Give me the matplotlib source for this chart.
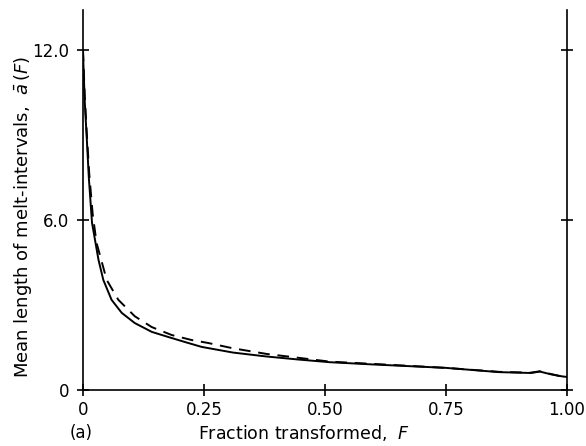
import matplotlib
matplotlib.use("Agg")
import matplotlib.pyplot as plt

# Data
F_solid = [0.0, 0.0035, 0.008, 0.012, 0.0186, 0.032, 0.042, 0.059, 0.080, 0.107, 0.142, 0.176, 0.211,
           0.245, 0.31, 0.38, 0.448, 0.51, 0.6, 0.75, 0.86, 0.925, 0.944, 0.965, 0.99, 1.0]
a_solid = [11.9, 10.2, 8.8, 7.5, 5.9, 4.59, 3.88, 3.18, 2.72, 2.36, 2.05, 1.87, 1.69,
           1.52, 1.32, 1.18, 1.07, 0.98, 0.9, 0.78, 0.63, 0.6, 0.65, 0.56, 0.48, 0.46]

F_dashed = [0.0, 0.0035, 0.008, 0.013, 0.02, 0.028, 0.049, 0.073, 0.107, 0.142, 0.183, 0.225, 0.258,
            0.31, 0.38, 0.448, 0.51, 0.6, 0.75, 0.86, 0.925, 0.944, 0.965, 0.99, 1.0]
a_dashed = [12.0, 10.4, 9.0, 7.6, 6.2, 5.19, 3.88, 3.18, 2.6, 2.22, 1.94, 1.76, 1.66,
            1.47, 1.27, 1.13, 1.0, 0.92, 0.78, 0.64, 0.61, 0.66, 0.57, 0.47, 0.42]

x_ticks = [0, 0.25, 0.5, 0.75, 1.0]
x_ticklabels = ["0", "0.25", "0.50", "0.75", "1.00"]
y_ticks = [0, 6.0, 12.0]
y_ticklabels = ["0", "6.0", "12.0"]

W, H = 586, 446
fig = plt.figure(figsize=(W / 100, H / 100), dpi=100)
ax = fig.add_axes([83 / W, (H - 390) / H, (567 - 83) / W, 380 / H])

ax.plot(F_solid, a_solid, color="black", lw=1.4, solid_joinstyle="round")
ax.plot(F_dashed, a_dashed, color="black", lw=1.4, dashes=(6, 4))

ax.set_xlim(0, 1.0)
ax.set_ylim(0, 13.4)
ax.spines["top"].set_visible(False)
for s in ["left", "right", "bottom"]:
    ax.spines[s].set_linewidth(1.2)

ax.set_xticks(x_ticks)
ax.set_xticklabels(x_ticklabels)
ax.set_yticks(y_ticks)
ax.set_yticklabels(y_ticklabels)
ax.tick_params(axis="both", direction="inout", length=8, width=1.2, labelsize=12, pad=4)
ax.tick_params(axis="y", right=True, pad=6)

ax.set_ylabel(r"Mean length of melt-intervals,  $\bar{a}\,(F)$", fontsize=13)
ax.yaxis.label.set_verticalalignment("center")
ax.yaxis.set_label_coords((23 - 83) / 484, (390 - 217) / 380)

ax.set_xlabel(r"Fraction transformed,  $F$", fontsize=12.5)
ax.xaxis.label.set_verticalalignment("center")
ax.xaxis.set_label_coords((304 - 83) / 484, (390 - 433) / 380)

fig.text(70 / W, 1 - 433 / H, "(a)", fontsize=12, va="center", ha="left")

fig.savefig("out.png", dpi=100, facecolor="white")
